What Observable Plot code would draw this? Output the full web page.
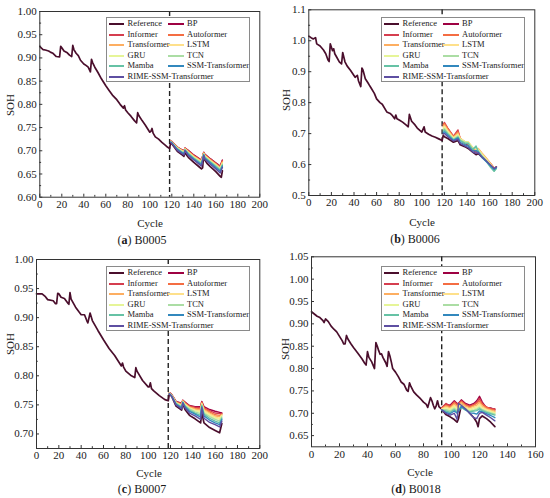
<!DOCTYPE html>
<html><head><meta charset="utf-8">
<script src="https://cdn.jsdelivr.net/npm/d3@7"></script>
<script src="https://cdn.jsdelivr.net/npm/@observablehq/plot@0.6"></script>
<style>
body{margin:0;background:#fff;font-family:"Liberation Serif","Times New Roman",serif;}
#root{position:relative;width:550px;height:498px;overflow:hidden;background:#fff;}
.panel{position:absolute;width:275px;height:249px;}
.panel svg{position:absolute;left:0;top:0;}
.lbl{position:absolute;font-size:11px;color:#1a1a1a;white-space:nowrap;line-height:1;}
.cap{position:absolute;font-size:12px;color:#1a1a1a;white-space:nowrap;line-height:1;}
.legend{position:absolute;background:#fff;border:1px solid #8a8a8a;box-sizing:border-box;}
.row{position:absolute;font-size:8.5px;line-height:1;color:#222;white-space:nowrap;}
.sw{position:absolute;height:2px;}
</style></head><body><div id="root"></div>
<script>
// ---------- series names & colours ----------
const models = ["BP","Informer","Autoformer","Transformer","LSTM","GRU","TCN","Mamba","SSM-Transformer","RIME-SSM-Transformer"];
const colors = {"Reference":"#4a0e2c","BP":"#9e0142","Informer":"#d53e4f","Autoformer":"#f46d43","Transformer":"#fdae61","LSTM":"#fee08b","GRU":"#e6f598","TCN":"#abdda4","Mamba":"#66c2a5","SSM-Transformer":"#3288bd","RIME-SSM-Transformer":"#5e4fa2"};
const legendRows = [["Reference","BP"],["Informer","Autoformer"],["Transformer","LSTM"],["GRU","TCN"],["Mamba","SSM-Transformer"],["RIME-SSM-Transformer",null]];

// ---------- tick labels ----------
const xTicks200 = [0,20,40,60,80,100,120,140,160,180,200];
const xTicks160 = [0,20,40,60,80,100,120,140,160];
const yTicksA = [0.60,0.65,0.70,0.75,0.80,0.85,0.90,0.95,1.00];
const yTicksB = [0.5,0.6,0.7,0.8,0.9,1.0,1.1];
const yTicksC = [0.70,0.75,0.80,0.85,0.90,0.95,1.00];
const yTicksD = [0.65,0.70,0.75,0.80,0.85,0.90,0.95,1.00,1.05];

// ---------- (a) B0005 ----------
const refCycA = [0,1,3,5,8,10,12,15,18,19,20,22,25,27,29,30,31,33,35,37,40,42,44,46,47,48,50,53,56,60,63,66,70,73,76,77,78,80,83,86,88,89,90,93,96,100,101,102,103,105,108,111,114,116,118,119,120,125,130,131,132,133,135,140,145,147,148,149,150,152,155,160,164,165,166];
const refSohA = [0.925,0.922,0.918,0.917,0.915,0.912,0.910,0.903,0.902,0.925,0.922,0.915,0.911,0.906,0.903,0.927,0.918,0.910,0.905,0.895,0.887,0.884,0.880,0.870,0.897,0.890,0.880,0.868,0.855,0.840,0.830,0.820,0.810,0.800,0.792,0.797,0.788,0.782,0.774,0.765,0.760,0.782,0.776,0.765,0.755,0.740,0.742,0.748,0.738,0.730,0.725,0.718,0.712,0.708,0.705,0.718,0.715,0.699,0.690,0.688,0.699,0.692,0.686,0.675,0.665,0.661,0.663,0.692,0.680,0.673,0.666,0.655,0.645,0.643,0.657];
const predCycA = [119,120,125,131,132,135,140,147,149,150,155,160,164,166];
const predA = {
  "BP":                   [0.721,0.720,0.708,0.700,0.706,0.701,0.691,0.680,0.697,0.693,0.683,0.674,0.667,0.680],
  "Informer":             [0.721,0.719,0.708,0.699,0.706,0.700,0.690,0.679,0.696,0.692,0.682,0.673,0.666,0.679],
  "Autoformer":           [0.721,0.719,0.707,0.698,0.705,0.699,0.689,0.678,0.696,0.691,0.681,0.672,0.664,0.677],
  "Transformer":          [0.720,0.719,0.707,0.698,0.705,0.698,0.688,0.677,0.695,0.690,0.680,0.671,0.663,0.676],
  "LSTM":                 [0.720,0.718,0.706,0.697,0.704,0.697,0.687,0.676,0.694,0.689,0.679,0.670,0.662,0.674],
  "GRU":                  [0.720,0.718,0.706,0.696,0.703,0.696,0.686,0.675,0.693,0.688,0.678,0.669,0.661,0.672],
  "TCN":                  [0.719,0.718,0.705,0.695,0.703,0.695,0.685,0.674,0.693,0.687,0.677,0.668,0.660,0.671],
  "Mamba":                [0.719,0.717,0.704,0.694,0.702,0.694,0.684,0.672,0.692,0.686,0.676,0.666,0.658,0.669],
  "SSM-Transformer":      [0.719,0.717,0.703,0.693,0.701,0.692,0.682,0.670,0.691,0.684,0.674,0.664,0.656,0.667],
  "RIME-SSM-Transformer": [0.718,0.716,0.701,0.691,0.700,0.690,0.680,0.667,0.690,0.682,0.671,0.661,0.652,0.664]
};

// ---------- (b) B0006 ----------
const refCycB = [0,2,4,5,6,7,10,13,15,17,18,19,21,22,23,25,27,29,30,32,34,37,41,43,44,46,47,48,50,53,55,58,60,63,65,69,72,74,76,77,78,80,83,86,88,89,91,94,96,100,102,103,106,109,112,115,118,119,120,123,128,132,134,138,141,145,148,150,153,157,161,164,166];
const refSohB = [1.015,1.010,1.006,1.008,1.010,0.990,0.983,0.970,0.958,0.938,0.933,0.990,0.968,0.974,0.958,0.945,0.932,0.925,0.962,0.932,0.918,0.904,0.882,0.888,0.870,0.852,0.912,0.905,0.877,0.860,0.848,0.830,0.812,0.800,0.795,0.770,0.765,0.758,0.748,0.760,0.748,0.744,0.737,0.728,0.722,0.762,0.740,0.728,0.718,0.705,0.722,0.705,0.698,0.692,0.688,0.683,0.678,0.695,0.690,0.684,0.672,0.678,0.664,0.658,0.652,0.640,0.632,0.636,0.625,0.612,0.600,0.588,0.592];
const predCycB = [119,120,123,128,132,134,138,141,145,148,150,153,157,161,164,166];
const predB = {
  "BP":                   [0.725,0.730,0.715,0.690,0.705,0.680,0.668,0.662,0.648,0.640,0.645,0.630,0.615,0.600,0.588,0.590],
  "Informer":             [0.730,0.736,0.718,0.692,0.712,0.684,0.670,0.665,0.650,0.642,0.648,0.632,0.617,0.602,0.589,0.591],
  "Autoformer":           [0.728,0.733,0.716,0.690,0.706,0.684,0.672,0.668,0.652,0.645,0.650,0.636,0.620,0.603,0.588,0.590],
  "Transformer":          [0.724,0.728,0.712,0.688,0.702,0.685,0.674,0.672,0.655,0.648,0.652,0.638,0.621,0.603,0.587,0.589],
  "LSTM":                 [0.720,0.724,0.708,0.686,0.698,0.684,0.675,0.674,0.655,0.650,0.650,0.636,0.619,0.600,0.585,0.588],
  "GRU":                  [0.716,0.720,0.705,0.684,0.695,0.682,0.674,0.673,0.653,0.652,0.648,0.633,0.616,0.598,0.583,0.588],
  "TCN":                  [0.712,0.716,0.702,0.682,0.692,0.680,0.672,0.671,0.651,0.655,0.645,0.630,0.613,0.593,0.579,0.587],
  "Mamba":                [0.708,0.712,0.699,0.680,0.689,0.677,0.669,0.668,0.648,0.660,0.642,0.627,0.610,0.590,0.578,0.588],
  "SSM-Transformer":      [0.704,0.706,0.695,0.678,0.686,0.672,0.664,0.660,0.644,0.645,0.640,0.624,0.610,0.595,0.584,0.590],
  "RIME-SSM-Transformer": [0.700,0.700,0.690,0.676,0.682,0.668,0.660,0.655,0.641,0.636,0.638,0.626,0.612,0.598,0.587,0.592]
};

// ---------- (c) B0007 ----------
const refCycC = [0,5,8,10,15,17,18,19,20,22,25,28,29,30,31,33,35,38,40,43,45,46,48,50,55,60,65,70,75,76,77,78,80,85,88,89,90,95,100,101,102,103,105,110,115,118,119,121,125,130,131,133,137,142,147,148,150,155,160,164,166];
const refSohC = [0.941,0.941,0.936,0.931,0.929,0.924,0.924,0.942,0.941,0.935,0.933,0.925,0.923,0.943,0.932,0.925,0.918,0.910,0.905,0.905,0.895,0.891,0.908,0.895,0.878,0.862,0.847,0.835,0.820,0.817,0.822,0.815,0.808,0.800,0.797,0.814,0.808,0.792,0.781,0.781,0.788,0.778,0.774,0.766,0.759,0.757,0.769,0.765,0.748,0.741,0.752,0.742,0.732,0.726,0.719,0.737,0.719,0.711,0.706,0.702,0.718];
const predCycC = [119,121,125,130,131,133,137,142,147,148,150,155,160,164,166];
const predC = {
  "BP":                   [0.771,0.768,0.756,0.753,0.758,0.755,0.749,0.747,0.747,0.756,0.747,0.742,0.739,0.737,0.736],
  "Informer":             [0.771,0.768,0.755,0.752,0.758,0.754,0.748,0.746,0.745,0.755,0.745,0.740,0.736,0.735,0.735],
  "Autoformer":           [0.771,0.767,0.755,0.751,0.757,0.753,0.747,0.744,0.743,0.754,0.744,0.738,0.733,0.732,0.734],
  "Transformer":          [0.770,0.767,0.754,0.750,0.757,0.752,0.746,0.743,0.741,0.753,0.742,0.736,0.731,0.730,0.733],
  "LSTM":                 [0.770,0.767,0.754,0.749,0.756,0.751,0.745,0.741,0.739,0.752,0.740,0.734,0.729,0.727,0.732],
  "GRU":                  [0.770,0.766,0.753,0.748,0.756,0.750,0.744,0.740,0.737,0.751,0.738,0.732,0.727,0.725,0.731],
  "TCN":                  [0.770,0.766,0.753,0.747,0.755,0.749,0.743,0.738,0.735,0.750,0.736,0.730,0.725,0.722,0.729],
  "Mamba":                [0.769,0.766,0.752,0.746,0.755,0.748,0.741,0.736,0.732,0.749,0.734,0.727,0.722,0.719,0.727],
  "SSM-Transformer":      [0.769,0.765,0.751,0.745,0.754,0.747,0.739,0.734,0.729,0.747,0.731,0.724,0.719,0.716,0.725],
  "RIME-SSM-Transformer": [0.769,0.765,0.750,0.743,0.753,0.745,0.736,0.731,0.725,0.745,0.727,0.720,0.716,0.712,0.722]
};

// ---------- (d) B0018 ----------
const refCycD = [0,2,4,6,8,9,10,12,14,16,18,20,22,23,24,25,26,28,30,33,36,38,39,40,41,43,45,46,47,48,49,50,51,53,54,55,56,57,58,60,62,64,66,68,69,70,71,73,75,78,80,82,83,85,86,87,88,89,90,91,93,96,99,102,104,105,107,108,110,113,116,118,119,120,122,125,128,131];
const refSohD = [0.927,0.922,0.917,0.914,0.908,0.903,0.911,0.905,0.895,0.888,0.882,0.872,0.862,0.855,0.855,0.874,0.866,0.856,0.847,0.835,0.822,0.812,0.808,0.838,0.825,0.815,0.800,0.858,0.850,0.840,0.832,0.833,0.825,0.813,0.805,0.838,0.828,0.815,0.800,0.792,0.782,0.770,0.765,0.752,0.749,0.768,0.760,0.748,0.741,0.732,0.725,0.720,0.713,0.735,0.728,0.718,0.710,0.716,0.728,0.715,0.709,0.697,0.692,0.686,0.680,0.688,0.718,0.722,0.712,0.700,0.690,0.680,0.670,0.688,0.694,0.688,0.680,0.670];
const predCycD = [93,96,99,102,104,105,107,110,113,116,118,120,122,125,128,131];
const predD = {
  "BP":                   [0.712,0.720,0.718,0.728,0.722,0.722,0.730,0.722,0.718,0.722,0.728,0.738,0.725,0.712,0.712,0.708],
  "Informer":             [0.712,0.722,0.716,0.726,0.720,0.722,0.728,0.720,0.716,0.720,0.724,0.733,0.722,0.714,0.710,0.710],
  "Autoformer":           [0.711,0.718,0.714,0.724,0.718,0.720,0.726,0.718,0.714,0.718,0.722,0.728,0.720,0.713,0.709,0.707],
  "Transformer":          [0.710,0.716,0.712,0.720,0.715,0.716,0.724,0.716,0.712,0.716,0.718,0.724,0.716,0.710,0.707,0.704],
  "LSTM":                 [0.709,0.713,0.710,0.717,0.712,0.713,0.720,0.713,0.709,0.713,0.715,0.720,0.713,0.708,0.705,0.702],
  "GRU":                  [0.708,0.710,0.708,0.714,0.709,0.710,0.717,0.711,0.707,0.710,0.712,0.716,0.710,0.706,0.703,0.700],
  "TCN":                  [0.708,0.708,0.705,0.711,0.706,0.708,0.715,0.709,0.705,0.707,0.709,0.713,0.708,0.704,0.701,0.698],
  "Mamba":                [0.707,0.705,0.702,0.708,0.703,0.706,0.713,0.707,0.703,0.705,0.706,0.710,0.706,0.702,0.699,0.696],
  "SSM-Transformer":      [0.707,0.702,0.699,0.705,0.700,0.704,0.716,0.708,0.701,0.700,0.698,0.705,0.703,0.699,0.695,0.690],
  "RIME-SSM-Transformer": [0.708,0.700,0.696,0.700,0.686,0.722,0.718,0.710,0.700,0.690,0.688,0.700,0.702,0.696,0.690,0.683]
};

// ---------- layout ----------
const panels = [
  {id:"a", name:"B0005", left:0,   top:0,   refC:refCycA, refV:refSohA, predC:predCycA, preds:predA, split:118,
   xDomain:[0,200], xTicks:xTicks200, yDomain:[0.60,1.00], yTicks:yTicksA, fmt:".2f",
   ml:39.3, mr:15.7, mt:11, bottom:196.7, soh:[10,105], cycle:[150,223], cap:[142,240]},
  {id:"b", name:"B0006", left:275, top:0,   refC:refCycB, refV:refSohB, predC:predCycB, preds:predB, split:118,
   xDomain:[0,200], xTicks:xTicks200, yDomain:[0.5,1.1], yTicks:yTicksB, fmt:".1f",
   ml:33.3, mr:15.7, mt:9.3, bottom:195, soh:[11,100], cycle:[147,222], cap:[140,239]},
  {id:"c", name:"B0007", left:0,   top:249, refC:refCycC, refV:refSohC, predC:predCycC, preds:predC, split:118,
   xDomain:[0,200], xTicks:xTicks200, yDomain:[0.675,1.00], yTicks:yTicksC, fmt:".2f",
   ml:36, mr:15.7, mt:10, bottom:199, soh:[10,95], cycle:[149,224], cap:[142,240]},
  {id:"d", name:"B0018", left:275, top:249, refC:refCycD, refV:refSohD, predC:predCycD, preds:predD, split:93,
   xDomain:[0,160], xTicks:xTicks160, yDomain:[0.625,1.05], yTicks:yTicksD, fmt:".2f",
   ml:36, mr:15, mt:7.3, bottom:197.3, soh:[10,100], cycle:[145,223], cap:[141,240]}
];

function mids(t){ const r=[]; for(let i=0;i<t.length-1;i++) r.push((t[i]+t[i+1])/2); return r; }

const root = document.getElementById("root");
for (const p of panels) {
  const W = 275, H = 249;
  const innerW = W - p.ml - p.mr, innerH = p.bottom - p.mt;
  const marks = [];
  marks.push(Plot.ruleX([p.split], {stroke:"#222", strokeWidth:1.4, strokeDasharray:"5,3"}));
  marks.push(Plot.line(p.refC.map((c,i)=>({c, v:p.refV[i]})), {x:"c", y:"v", stroke:colors["Reference"], strokeWidth:1.7}));
  for (const m of models) {
    marks.push(Plot.line(p.predC.map((c,i)=>({c, v:p.preds[m][i]})), {x:"c", y:"v", stroke:colors[m], strokeWidth:1.4}));
  }
  marks.push(Plot.frame({stroke:"#333", strokeWidth:1}));
  marks.push(Plot.ruleX(p.xTicks, {insetTop: innerH-3, stroke:"#333"}));
  marks.push(Plot.ruleX(mids(p.xTicks), {insetTop: innerH-1.8, stroke:"#333"}));
  marks.push(Plot.ruleY(p.yTicks, {insetRight: innerW-3, stroke:"#333"}));
  marks.push(Plot.ruleY(mids(p.yTicks), {insetRight: innerW-1.8, stroke:"#333"}));
  marks.push(Plot.axisX(p.xTicks, {tickSize:0, tickPadding:3, tickFormat:d=>String(d), label:null}));
  marks.push(Plot.axisY(p.yTicks, {tickSize:0, tickPadding:3, tickFormat:d3.format(p.fmt), label:null}));
  const svg = Plot.plot({
    width:W, height:H,
    marginLeft:p.ml, marginRight:p.mr, marginTop:p.mt, marginBottom:H-p.bottom,
    x:{domain:p.xDomain}, y:{domain:p.yDomain},
    style:{fontFamily:"'Liberation Serif','Times New Roman',serif", fontSize:"11px", color:"#1a1a1a", background:"transparent", overflow:"visible"},
    marks
  });
  const div = document.createElement("div");
  div.className = "panel";
  div.style.left = p.left + "px"; div.style.top = p.top + "px";
  div.appendChild(svg);

  // axis titles
  const soh = document.createElement("div");
  soh.className = "lbl"; soh.textContent = "SOH";
  soh.style.left = p.soh[0] + "px"; soh.style.top = p.soh[1] + "px";
  soh.style.transform = "translate(-50%,-50%) rotate(-90deg)";
  div.appendChild(soh);
  const cyc = document.createElement("div");
  cyc.className = "lbl"; cyc.textContent = "Cycle";
  cyc.style.left = p.cycle[0] + "px"; cyc.style.top = p.cycle[1] + "px";
  cyc.style.transform = "translate(-50%,-50%)";
  div.appendChild(cyc);
  const cap = document.createElement("div");
  cap.className = "cap"; cap.innerHTML = "(<b>" + p.id + "</b>) " + p.name;
  cap.style.left = p.cap[0] + "px"; cap.style.top = p.cap[1] + "px";
  cap.style.transform = "translate(-50%,-50%)";
  div.appendChild(cap);

  // legend
  const lg = document.createElement("div");
  lg.className = "legend";
  lg.style.left = "106px"; lg.style.top = "17px"; lg.style.width = "144px"; lg.style.height = "65px";
  legendRows.forEach((row, i) => {
    row.forEach((name, j) => {
      if (!name) return;
      const yc = 6 + i * 10.5;
      const sw = document.createElement("div");
      sw.className = "sw";
      sw.style.left = (j ? 61 : 2) + "px"; sw.style.width = (j ? 16 : 15) + "px";
      sw.style.top = (yc - 1) + "px"; sw.style.background = colors[name];
      lg.appendChild(sw);
      const t = document.createElement("div");
      t.className = "row"; t.textContent = name;
      t.style.left = (j ? 80 : 20.5) + "px"; t.style.top = (yc - 4.6) + "px";
      lg.appendChild(t);
    });
  });
  div.appendChild(lg);
  root.appendChild(div);
}
</script></body></html>
